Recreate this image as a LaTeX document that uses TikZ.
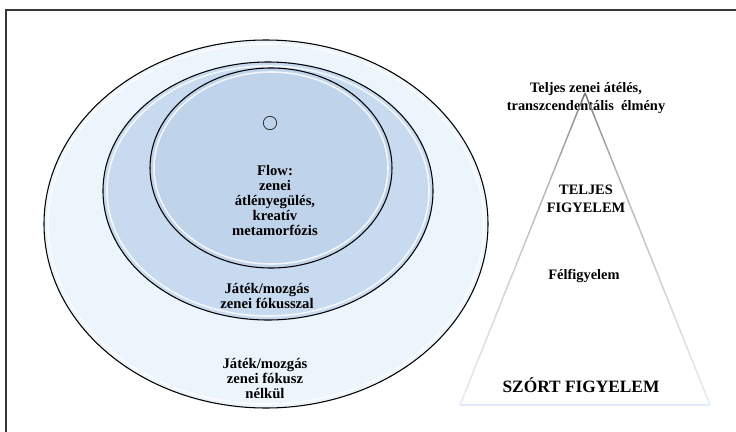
\documentclass[tikz,border=0pt]{standalone}
\usepackage{fontspec}
\setmainfont{Liberation Serif}
\usetikzlibrary{calc}
\definecolor{ringout}{RGB}{236,244,252}
\definecolor{ringmid}{RGB}{199,218,239}
\definecolor{ringin}{RGB}{191,211,235}
\definecolor{tritop}{RGB}{118,118,124}
\definecolor{tribot}{RGB}{226,236,248}
\definecolor{framegray}{RGB}{55,55,55}
\begin{document}
\begin{tikzpicture}[x=0.75pt,y=-0.75pt,
      ring/.style={draw=black,line width=0.8pt},
      gloss/.style={draw=white,line width=1.2pt,opacity=0.8},
      lbl/.style={font=\bfseries\fontsize{11}{11.25}\selectfont,align=center,inner sep=0pt},
      tlbl/.style={font=\bfseries\fontsize{10.8}{13.5}\selectfont,align=center,inner sep=0pt}
    ]
    \clip (0,0) rectangle (736,432);
    \fill[white] (0,0) rectangle (736,432);
    % Frame
    \draw[framegray,line width=1.1pt] (6,10) rectangle (760,460);
    % Nested rings
    \filldraw[ring,fill=ringout] (266,224) ellipse [x radius=166.5pt,y radius=138pt];
    \draw[gloss] (266,224) ellipse [x radius=163.5pt,y radius=135pt];
    \filldraw[ring,fill=ringmid] (268,191) ellipse [x radius=123.75pt,y radius=96.75pt];
    \draw[gloss] (268,191) ellipse [x radius=120.75pt,y radius=93.75pt];
    \filldraw[ring,fill=ringin] (271,168) ellipse [x radius=90.75pt,y radius=75pt];
    \draw[gloss] (271,168) ellipse [x radius=87.75pt,y radius=72pt];
    \node[circle,draw=black!80,line width=0.6pt,minimum size=10pt,inner sep=0pt] (dot) at (270,123) {};
    % Ring labels
    \node[lbl] (flow) at (275,200) {Flow:\\zenei\\átlényegülés,\\kreatív\\metamorfózis};
    \node[lbl] (fokusz) at (267,296) {Játék/mozgás\\zenei fókusszal};
    \node[lbl] (nofokusz) at (265,378) {Játék/mozgás\\zenei fókusz\\nélkül};
    % Attention pyramid
    \node[tlbl] (peak) at (586,98) {Teljes zenei átélés,\\transzcendentális~~élmény};
    \node[tlbl] (teljes) at (586,199) {TELJES\\FIGYELEM};
    \node[tlbl] (felfigy) at (584,276) {Félfigyelem};
    \node[font=\bfseries\fontsize{13}{15}\selectfont,inner sep=0pt] (szort) at (581,385) {SZÓRT FIGYELEM};
    \coordinate (apex) at (585,93);
    \coordinate (bl) at (460,405);
    \coordinate (br) at (710,405);
    \draw[tribot,line width=0.8pt] (bl) -- (br);
    \foreach \i in {0,...,24}{
      \pgfmathsetmacro\pa{\i/25}
      \pgfmathsetmacro\pb{(\i+1)/25}
      \pgfmathtruncatemacro\pc{100*sqrt(\i/24)}
      \draw[tribot!\pc!tritop,line width=1.1pt] ($(apex)!\pa!(bl)$) -- ($(apex)!\pb!(bl)$);
      \draw[tribot!\pc!tritop,line width=1.1pt] ($(apex)!\pa!(br)$) -- ($(apex)!\pb!(br)$);
    }
  \end{tikzpicture}
\end{document}
